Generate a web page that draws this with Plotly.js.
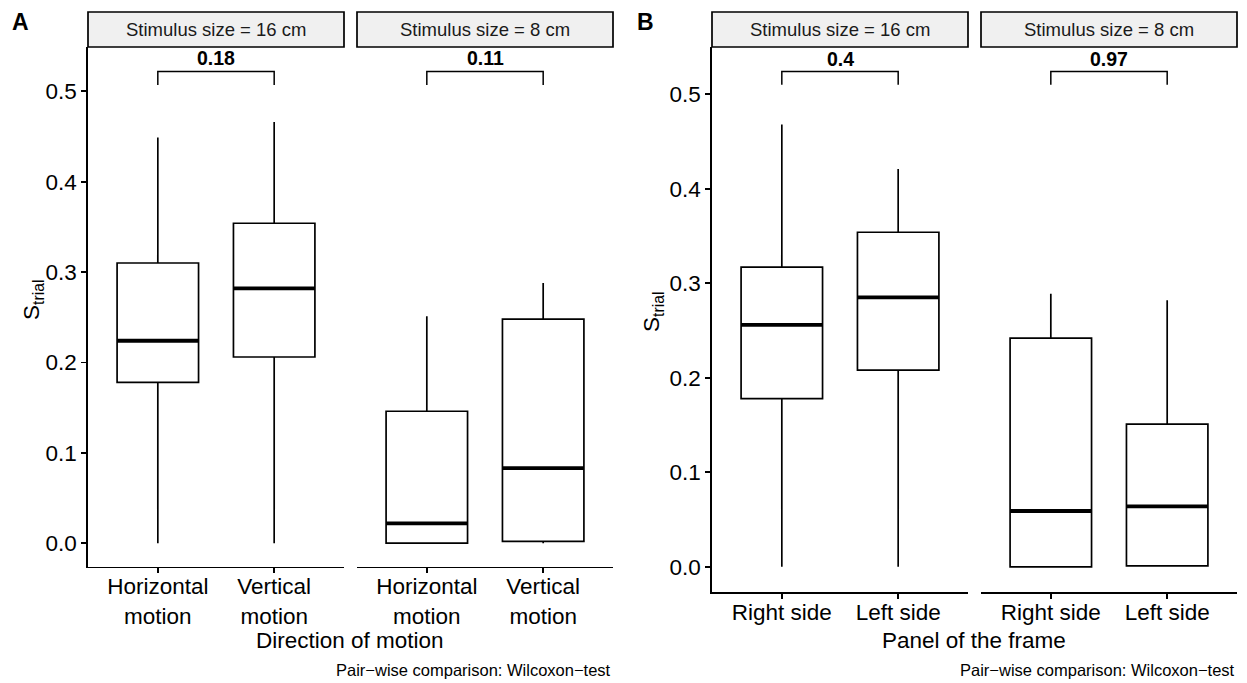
<!DOCTYPE html>
<html><head><meta charset="utf-8">
<script src="https://cdn.plot.ly/plotly-3.0.1.min.js"></script>
<style>body{margin:0;padding:0;background:#fff}#chart{width:1247px;height:683px}</style>
</head><body><div id="chart"></div>
<script>
// ---------- data ----------
const facetLabels = ['Stimulus size = 16 cm', 'Stimulus size = 8 cm'];
const catsA = ['Horizontal<br>motion', 'Vertical<br>motion'];
const catsB = ['Right side', 'Left side'];

// Panel A, stimulus 16 cm
const a16Lower = [0.000, 0.000];
const a16Q1 = [0.178, 0.206];
const a16Median = [0.224, 0.282];
const a16Q3 = [0.310, 0.354];
const a16Upper = [0.449, 0.466];
// Panel A, stimulus 8 cm
const a8Lower = [0.000, 0.000];
const a8Q1 = [0.000, 0.002];
const a8Median = [0.022, 0.083];
const a8Q3 = [0.146, 0.248];
const a8Upper = [0.251, 0.288];
// Panel B, stimulus 16 cm
const b16Lower = [0.000, 0.000];
const b16Q1 = [0.178, 0.208];
const b16Median = [0.256, 0.285];
const b16Q3 = [0.317, 0.354];
const b16Upper = [0.468, 0.421];
// Panel B, stimulus 8 cm
const b8Lower = [0.000, 0.000];
const b8Q1 = [0.000, 0.001];
const b8Median = [0.059, 0.064];
const b8Q3 = [0.242, 0.151];
const b8Upper = [0.289, 0.282];

const pValuesA = ['0.18', '0.11'];
const pValuesB = ['0.4', '0.97'];
const yTicks = [0, 0.1, 0.2, 0.3, 0.4, 0.5];

// ---------- layout helpers ----------
const W = 1247, H = 683;
const px = v => v / W;
const py = v => 1 - v / H;
const FONT = 'Liberation Sans, Arial, sans-serif';
const BOXW = 0.7;
const LW = 1.7;
const TICKFONT = 22.5;

const facets = [
  {xa: 'x',  ya: 'y',  cats: catsA, lo: a16Lower, q1: a16Q1, med: a16Median, q3: a16Q3, up: a16Upper, p: pValuesA[0], strip: facetLabels[0], x0: 88,  x1: 344},
  {xa: 'x2', ya: 'y',  cats: catsA, lo: a8Lower,  q1: a8Q1,  med: a8Median,  q3: a8Q3,  up: a8Upper,  p: pValuesA[1], strip: facetLabels[1], x0: 357, x1: 613},
  {xa: 'x3', ya: 'y2', cats: catsB, lo: b16Lower, q1: b16Q1, med: b16Median, q3: b16Q3, up: b16Upper, p: pValuesB[0], strip: facetLabels[0], x0: 712, x1: 968},
  {xa: 'x4', ya: 'y2', cats: catsB, lo: b8Lower,  q1: b8Q1,  med: b8Median,  q3: b8Q3,  up: b8Upper,  p: pValuesB[1], strip: facetLabels[1], x0: 981, x1: 1237}
];

const traces = [];
const shapes = [];
const annotations = [];
const STRIP_TOP = 12, STRIP_BOT = 47;

facets.forEach(f => {
  const xs = f.cats.map((c, i) => i + 1);
  traces.push({
    type: 'box', xaxis: f.xa, yaxis: f.ya, x: xs,
    lowerfence: f.lo, q1: f.q1, median: f.med, q3: f.q3, upperfence: f.up,
    width: BOXW, whiskerwidth: 0, boxpoints: false,
    fillcolor: '#ffffff', line: {color: '#000000', width: LW},
    hoverinfo: 'skip', showlegend: false
  });
  // thicker median lines (ggplot style)
  xs.forEach((x, i) => {
    traces.push({
      type: 'scatter', mode: 'lines', xaxis: f.xa, yaxis: f.ya,
      x: [x - BOXW / 2, x + BOXW / 2], y: [f.med[i], f.med[i]],
      line: {color: '#000000', width: 3.8}, hoverinfo: 'skip', showlegend: false
    });
  });
  // strip
  shapes.push({type: 'rect', xref: 'paper', yref: 'paper',
    x0: px(f.x0), x1: px(f.x1), y0: py(STRIP_BOT), y1: py(STRIP_TOP),
    fillcolor: '#f0f0f0', line: {color: '#000000', width: LW}, layer: 'above'});
  annotations.push({xref: 'paper', yref: 'paper', x: px((f.x0 + f.x1) / 2), y: py((STRIP_TOP + STRIP_BOT) / 2),
    text: f.strip, showarrow: false, xanchor: 'center', yanchor: 'middle',
    font: {family: FONT, size: 18.5, color: '#1a1a1a'}});
  // comparison bracket
  const isA = f.ya === 'y';
  const yb = isA ? 0.522 : 0.524;
  const yt = isA ? 0.507 : 0.510;
  const xr = f.xa;
  shapes.push({type: 'path', xref: xr, yref: f.ya,
    path: `M ${xs[0]},${yt} L ${xs[0]},${yb} L ${xs[1]},${yb} L ${xs[1]},${yt}`,
    line: {color: '#000000', width: 1.5}});
  annotations.push({xref: xr, yref: f.ya, x: (xs[0] + xs[1]) / 2, y: yb,
    text: '<b>' + f.p + '</b>', showarrow: false, xanchor: 'center', yanchor: 'bottom', yshift: 0,
    font: {family: FONT, size: 19.5, color: '#000000'}});
});

function xaxisDef(f, anchor) {
  return {
    domain: [px(f.x0), px(f.x1)], anchor: anchor,
    range: [0.4, 2.6], tickvals: [1, 2], ticktext: f.cats,
    showline: true, linecolor: '#000', linewidth: LW, mirror: false,
    ticks: 'outside', ticklen: 5, tickwidth: LW, tickcolor: '#000',
    ticklabelstandoff: -6,
    showgrid: false, zeroline: false, fixedrange: true,
    tickfont: {family: FONT, size: TICKFONT, color: '#000'}
  };
}
function yaxisDef(bottomPx, range, anchor) {
  return {
    domain: [py(bottomPx), py(STRIP_BOT)], anchor: anchor,
    range: range, tickvals: yTicks, tickformat: '.1f',
    showline: true, linecolor: '#000', linewidth: LW,
    ticks: 'outside', ticklen: 5, tickwidth: LW, tickcolor: '#000',
    showgrid: false, zeroline: false, fixedrange: true,
    tickfont: {family: FONT, size: TICKFONT, color: '#000'}
  };
}

// panel letters
annotations.push({xref: 'paper', yref: 'paper', x: px(10), y: py(22), text: '<b>A</b>', showarrow: false,
  xanchor: 'left', yanchor: 'middle', font: {family: FONT, size: 23, color: '#000'}});
annotations.push({xref: 'paper', yref: 'paper', x: px(635), y: py(22), text: '<b>B</b>', showarrow: false,
  xanchor: 'left', yanchor: 'middle', font: {family: FONT, size: 23, color: '#000'}});
// y titles
annotations.push({xref: 'paper', yref: 'paper', x: px(33), y: py(300), text: 'S<sub>trial</sub>', showarrow: false,
  textangle: -90, xanchor: 'center', yanchor: 'middle', font: {family: FONT, size: 22.5, color: '#000'}});
annotations.push({xref: 'paper', yref: 'paper', x: px(653), y: py(312), text: 'S<sub>trial</sub>', showarrow: false,
  textangle: -90, xanchor: 'center', yanchor: 'middle', font: {family: FONT, size: 22.5, color: '#000'}});
// x titles
annotations.push({xref: 'paper', yref: 'paper', x: px(350), y: py(640), text: 'Direction of motion', showarrow: false,
  xanchor: 'center', yanchor: 'middle', font: {family: FONT, size: 22.5, color: '#000'}});
annotations.push({xref: 'paper', yref: 'paper', x: px(974), y: py(640), text: 'Panel of the frame', showarrow: false,
  xanchor: 'center', yanchor: 'middle', font: {family: FONT, size: 22.5, color: '#000'}});
// captions
annotations.push({xref: 'paper', yref: 'paper', x: px(613), y: py(670), text: 'Pair\u2212wise comparison: Wilcoxon\u2212test', showarrow: false,
  xanchor: 'right', yanchor: 'middle', font: {family: FONT, size: 16.5, color: '#000'}});
annotations.push({xref: 'paper', yref: 'paper', x: px(1237), y: py(670), text: 'Pair\u2212wise comparison: Wilcoxon\u2212test', showarrow: false,
  xanchor: 'right', yanchor: 'middle', font: {family: FONT, size: 16.5, color: '#000'}});

const yaA = yaxisDef(566.7, [-0.026, 0.549], 'x');
const yaB = yaxisDef(592.3, [-0.027, 0.550], 'x3');

const layout = {
  width: W, height: H,
  margin: {l: 0, r: 0, t: 0, b: 0, pad: 0},
  paper_bgcolor: '#ffffff', plot_bgcolor: '#ffffff',
  showlegend: false, boxmode: 'overlay',
  font: {family: FONT, color: '#000'},
  xaxis: xaxisDef(facets[0], 'y'),
  xaxis2: xaxisDef(facets[1], 'y'),
  xaxis3: xaxisDef(facets[2], 'y2'),
  xaxis4: xaxisDef(facets[3], 'y2'),
  yaxis: yaA,
  yaxis2: yaB,
  shapes: shapes,
  annotations: annotations
};

Plotly.newPlot('chart', traces, layout, {displayModeBar: false, staticPlot: true});
</script>
</body></html>
